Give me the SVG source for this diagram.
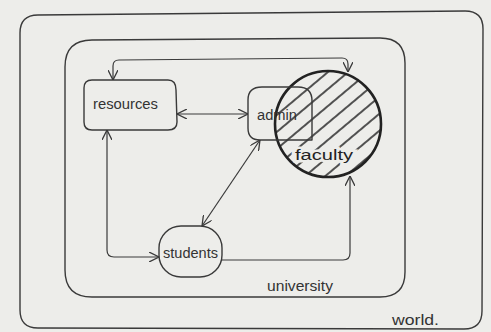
<svg xmlns="http://www.w3.org/2000/svg" width="491" height="332" viewBox="0 0 491 332">
<style>
.bg{fill:#ededea}
.box{fill:none;stroke:#3a3a3a;stroke-width:1.4;stroke-linejoin:round}
.con{fill:none;stroke:#3a3a3a;stroke-width:1.2}
.lbl{font-family:"Liberation Sans",Arial,sans-serif;fill:#333;font-size:14px}
.hatch{stroke:#2a2a2a;stroke-width:1.6}
</style>
<defs>
<marker id="arr" viewBox="0 0 10 10" refX="10" refY="5" markerWidth="10" markerHeight="10" markerUnits="userSpaceOnUse" orient="auto-start-reverse">
<path d="M0,0 L10,5 L0,10" fill="none" stroke="#3a3a3a" stroke-width="1.3"/>
</marker>
<pattern id="hp" width="13" height="13" patternUnits="userSpaceOnUse" patternTransform="rotate(-40)">
<line x1="0" y1="6" x2="13" y2="6" class="hatch"/>
</pattern>
<clipPath id="cc"><circle cx="328" cy="124" r="53"/></clipPath>
</defs>
<rect class="bg" x="0" y="0" width="491" height="332"/>
<g id="world">
<path class="box" d="M38,15 L465,11 Q483,11 483,29 L482,311 Q482,329 464,329 L38,328 Q20,328 20,310 L20,33 Q20,15 38,15 Z"/>
<text class="lbl" x="392" y="325" font-size="13" textLength="47" lengthAdjust="spacingAndGlyphs">world.</text>
</g>
<g id="university">
<path class="box" d="M92,40 L380,38 Q405,38 405,63 L405,272 Q405,297 380,297 L92,297 Q65,297 65,270 L65,67 Q65,40 92,40 Z"/>
<text class="lbl" x="267" y="291" textLength="66" lengthAdjust="spacingAndGlyphs">university</text>
</g>
<g id="faculty">
<rect x="270" y="66" width="116" height="116" fill="url(#hp)" clip-path="url(#cc)"/>
<circle cx="328" cy="124" r="53" fill="none" stroke="#222" stroke-width="2.6"/>
<text class="lbl" x="295" y="160" font-size="19" textLength="58" lengthAdjust="spacingAndGlyphs" stroke="#ededea" stroke-width="5" paint-order="stroke" style="fill:#222">faculty</text>
</g>
<g id="admin">
<path class="box" d="M262,87 L298,87 Q312,87 312,101 L312,140 L260,140 Q248,140 248,128 L248,100 Q248,87 262,87 Z"/>
<text class="lbl" x="257" y="120" textLength="40" lengthAdjust="spacingAndGlyphs">admin</text>
</g>
<g id="resources">
<path class="box" d="M92,80 L168,80 Q176,80 176,90 L177,122 Q177,130 168,130 L92,130 Q84,130 84,122 L84,88 Q84,80 92,80 Z"/>
<text class="lbl" x="93" y="109" textLength="65" lengthAdjust="spacingAndGlyphs">resources</text>
</g>
<g id="students">
<rect class="box" x="159" y="226" width="63" height="51" rx="22"/>
<text class="lbl" x="163" y="258" font-size="15" textLength="55" lengthAdjust="spacingAndGlyphs">students</text>
</g>
<g id="connectors">
<path class="con" d="M177,114 L248,114" marker-start="url(#arr)" marker-end="url(#arr)"/>
<path class="con" d="M113,80 L113,66 Q113,60 119,60 L342,58 Q348,58 348,64 L348,72" marker-start="url(#arr)" marker-end="url(#arr)"/>
<path class="con" d="M107,130 L107,250 Q107,257 114,257 L159,257" marker-start="url(#arr)" marker-end="url(#arr)"/>
<path class="con" d="M222,260 L343,260 Q350,260 350,253 L350,176" marker-end="url(#arr)"/>
<path class="con" d="M260,140 L202,226" marker-start="url(#arr)" marker-end="url(#arr)"/>
</g>
</svg>
